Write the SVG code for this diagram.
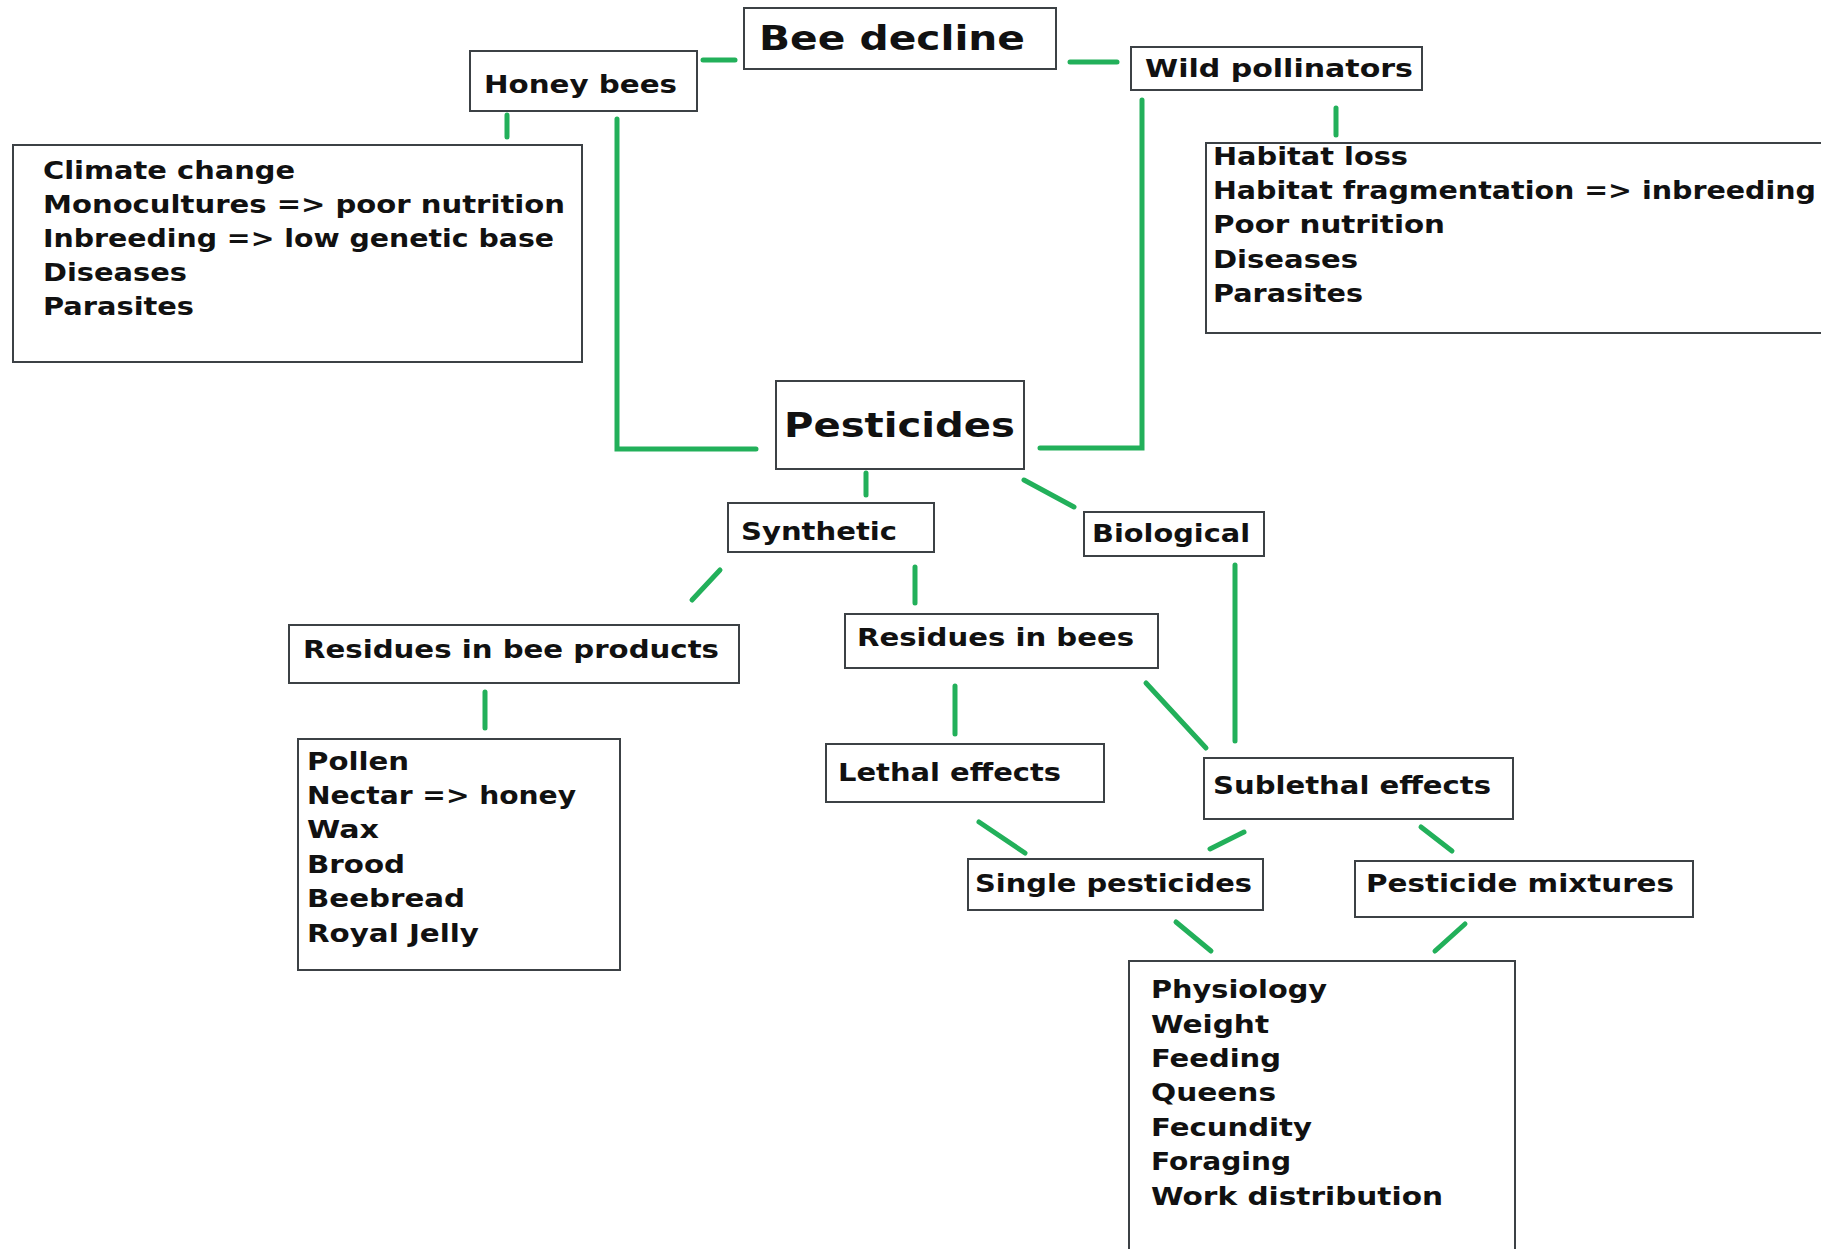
<svg xmlns="http://www.w3.org/2000/svg" width="1821" height="1249" viewBox="0 0 1821 1249">
<style>
.box{fill:#fff;stroke:#3c4145;stroke-width:2}
.t{font-family:"DejaVu Sans","Verdana",sans-serif;font-weight:bold;font-size:24px;fill:#111}
.big{font-size:34px}
.mid{font-size:33px}
.c{fill:none;stroke:#22b05a;stroke-width:5;stroke-linecap:round;stroke-linejoin:miter}
</style>
<rect width="1821" height="1249" fill="#fff"/>
<g id="connectors">
<path class="c" d="M703 60H735"/>
<path class="c" d="M1070 62H1117"/>
<path class="c" d="M507 115V137"/>
<path class="c" d="M617 119V449H756"/>
<path class="c" d="M1142 100V448H1040"/>
<path class="c" d="M1336 108V135"/>
<path class="c" d="M866 473V495"/>
<path class="c" d="M1024 480L1074 507"/>
<path class="c" d="M720 570L692 600"/>
<path class="c" d="M915 567V603"/>
<path class="c" d="M485 692V728"/>
<path class="c" d="M955 686V734"/>
<path class="c" d="M1146 683L1206 748"/>
<path class="c" d="M1235 565V741"/>
<path class="c" d="M979 822L1025 853"/>
<path class="c" d="M1244 832L1210 849"/>
<path class="c" d="M1421 827L1452 851"/>
<path class="c" d="M1176 922L1211 951"/>
<path class="c" d="M1465 924L1435 951"/>
</g>
<g id="bee-decline">
<rect class="box" x="744" y="8" width="312" height="61"/>
<text class="t big" x="759" y="50" textLength="266" lengthAdjust="spacingAndGlyphs">Bee decline</text>
</g>
<g id="honey-bees">
<rect class="box" x="470" y="51" width="227" height="60"/>
<text class="t" x="484" y="93" font-size="25" textLength="193" lengthAdjust="spacingAndGlyphs">Honey bees</text>
</g>
<g id="wild-pollinators">
<rect class="box" x="1131" y="47" width="291" height="43"/>
<text class="t" x="1145" y="77" textLength="268" lengthAdjust="spacingAndGlyphs">Wild pollinators</text>
</g>
<g id="honey-bee-factors">
<rect class="box" x="13" y="145" width="569" height="217"/>
<text class="t" x="43" y="179" textLength="252" lengthAdjust="spacingAndGlyphs">Climate change</text>
<text class="t" x="43" y="213" textLength="522" lengthAdjust="spacingAndGlyphs">Monocultures =&gt; poor nutrition</text>
<text class="t" x="43" y="247" textLength="511" lengthAdjust="spacingAndGlyphs">Inbreeding =&gt; low genetic base</text>
<text class="t" x="43" y="281" textLength="144" lengthAdjust="spacingAndGlyphs">Diseases</text>
<text class="t" x="43" y="315" textLength="151" lengthAdjust="spacingAndGlyphs">Parasites</text>
</g>
<g id="wild-pollinator-factors">
<rect class="box" x="1206" y="143" width="640" height="190"/>
<text class="t" x="1213" y="165" textLength="195" lengthAdjust="spacingAndGlyphs">Habitat loss</text>
<text class="t" x="1213" y="199" textLength="603" lengthAdjust="spacingAndGlyphs">Habitat fragmentation =&gt; inbreeding</text>
<text class="t" x="1213" y="233" textLength="232" lengthAdjust="spacingAndGlyphs">Poor nutrition</text>
<text class="t" x="1213" y="268" textLength="145" lengthAdjust="spacingAndGlyphs">Diseases</text>
<text class="t" x="1213" y="302" textLength="150" lengthAdjust="spacingAndGlyphs">Parasites</text>
</g>
<g id="pesticides">
<rect class="box" x="776" y="381" width="248" height="88"/>
<text class="t mid" x="784" y="437" textLength="231" lengthAdjust="spacingAndGlyphs">Pesticides</text>
</g>
<g id="synthetic">
<rect class="box" x="728" y="503" width="206" height="49"/>
<text class="t" x="741" y="540" textLength="156" lengthAdjust="spacingAndGlyphs">Synthetic</text>
</g>
<g id="biological">
<rect class="box" x="1084" y="512" width="180" height="44"/>
<text class="t" x="1092" y="542" textLength="158" lengthAdjust="spacingAndGlyphs">Biological</text>
</g>
<g id="residues-bee-products">
<rect class="box" x="289" y="625" width="450" height="58"/>
<text class="t" x="303" y="658" textLength="416" lengthAdjust="spacingAndGlyphs">Residues in bee products</text>
</g>
<g id="residues-bees">
<rect class="box" x="845" y="614" width="313" height="54"/>
<text class="t" x="857" y="646" textLength="277" lengthAdjust="spacingAndGlyphs">Residues in bees</text>
</g>
<g id="bee-products-list">
<rect class="box" x="298" y="739" width="322" height="231"/>
<text class="t" x="307" y="770" textLength="102" lengthAdjust="spacingAndGlyphs">Pollen</text>
<text class="t" x="307" y="804" textLength="269" lengthAdjust="spacingAndGlyphs">Nectar =&gt; honey</text>
<text class="t" x="307" y="838" textLength="72" lengthAdjust="spacingAndGlyphs">Wax</text>
<text class="t" x="307" y="873" textLength="98" lengthAdjust="spacingAndGlyphs">Brood</text>
<text class="t" x="307" y="907" textLength="158" lengthAdjust="spacingAndGlyphs">Beebread</text>
<text class="t" x="307" y="942" textLength="172" lengthAdjust="spacingAndGlyphs">Royal Jelly</text>
</g>
<g id="lethal-effects">
<rect class="box" x="826" y="744" width="278" height="58"/>
<text class="t" x="838" y="781" textLength="223" lengthAdjust="spacingAndGlyphs">Lethal effects</text>
</g>
<g id="sublethal-effects">
<rect class="box" x="1204" y="758" width="309" height="61"/>
<text class="t" x="1213" y="794" textLength="278" lengthAdjust="spacingAndGlyphs">Sublethal effects</text>
</g>
<g id="single-pesticides">
<rect class="box" x="968" y="859" width="295" height="51"/>
<text class="t" x="975" y="892" textLength="277" lengthAdjust="spacingAndGlyphs">Single pesticides</text>
</g>
<g id="pesticide-mixtures">
<rect class="box" x="1355" y="861" width="338" height="56"/>
<text class="t" x="1366" y="892" textLength="308" lengthAdjust="spacingAndGlyphs">Pesticide mixtures</text>
</g>
<g id="sublethal-list">
<rect class="box" x="1129" y="961" width="386" height="300"/>
<text class="t" x="1151" y="998" textLength="176" lengthAdjust="spacingAndGlyphs">Physiology</text>
<text class="t" x="1151" y="1033" textLength="118" lengthAdjust="spacingAndGlyphs">Weight</text>
<text class="t" x="1151" y="1067" textLength="130" lengthAdjust="spacingAndGlyphs">Feeding</text>
<text class="t" x="1151" y="1101" textLength="125" lengthAdjust="spacingAndGlyphs">Queens</text>
<text class="t" x="1151" y="1136" textLength="161" lengthAdjust="spacingAndGlyphs">Fecundity</text>
<text class="t" x="1151" y="1170" textLength="140" lengthAdjust="spacingAndGlyphs">Foraging</text>
<text class="t" x="1151" y="1205" textLength="292" lengthAdjust="spacingAndGlyphs">Work distribution</text>
</g>
</svg>
